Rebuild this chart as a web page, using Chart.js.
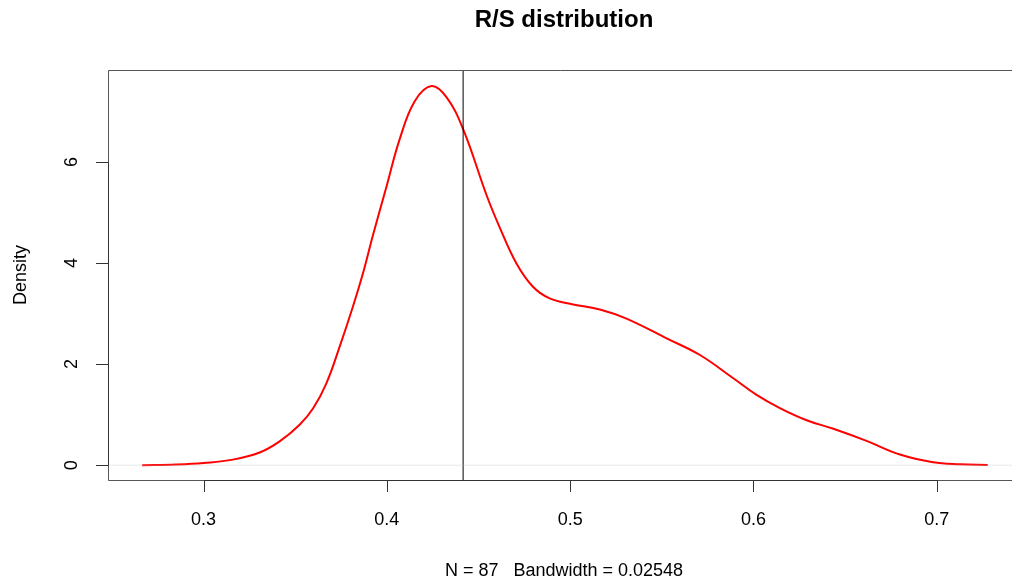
<!DOCTYPE html>
<html>
<head>
<meta charset="utf-8">
<script src="https://cdn.jsdelivr.net/npm/chart.js@4/dist/chart.umd.min.js"></script>
<style>
  html, body { margin: 0; padding: 0; background: #fff; overflow: hidden; }
</style>
</head>
<body>
<canvas id="densityChart" width="1012" height="586"></canvas>
<script>
// density curve
const xValues = [0.2665, 0.285, 0.300, 0.316, 0.3306, 0.3415, 0.3524, 0.3597, 0.367, 0.3742,
                 0.3815, 0.387, 0.3924, 0.3997, 0.4070, 0.4152, 0.4243, 0.4325, 0.4416, 0.4543,
                 0.4616, 0.4707, 0.4797, 0.4888, 0.5016, 0.5162, 0.5307, 0.5526, 0.5708, 0.589,
                 0.6017, 0.6144, 0.629, 0.6436, 0.6617, 0.6799, 0.698, 0.7125, 0.7278];
const densityValues = [0.00, 0.015, 0.045, 0.11, 0.25, 0.47, 0.80, 1.12, 1.62, 2.34,
                       3.14, 3.80, 4.55, 5.50, 6.45, 7.20, 7.50, 7.28, 6.65, 5.35,
                       4.70, 3.99, 3.53, 3.30, 3.18, 3.08, 2.90, 2.51, 2.18, 1.72,
                       1.39, 1.13, 0.89, 0.72, 0.48, 0.21, 0.06, 0.02, 0.005];
const markerX = 0.4416;
const xTicks = [0.3, 0.4, 0.5, 0.6, 0.7];
const yTicks = [0, 2, 4, 6];
const xRange = [0.24786, 0.74105];
const yRange = [-0.293, 7.818];

const FONT = '"Liberation Sans", Arial, Helvetica, sans-serif';

// R style frame, ticks and labels
const rAxes = {
    id: 'rAxes',
    afterDraw(chart) {
        const ctx = chart.ctx;
        const area = chart.chartArea;
        const xs = chart.scales.x, ys = chart.scales.y;
        ctx.save();

        // box
        ctx.strokeStyle = '#555';
        ctx.lineWidth = 1;
        ctx.beginPath();
        ctx.moveTo(1012, area.top + 0.5);
        ctx.lineTo(area.left + 0.5, area.top + 0.5);
        ctx.lineTo(area.left + 0.5, area.bottom + 0.5);
        ctx.lineTo(1012, area.bottom + 0.5);
        ctx.stroke();

        // x axis
        ctx.strokeStyle = '#333';
        ctx.beginPath();
        const x0 = Math.round(xs.getPixelForValue(xTicks[0])) + 0.5;
        const x1 = Math.round(xs.getPixelForValue(xTicks[xTicks.length - 1])) + 0.5;
        ctx.moveTo(x0, area.bottom + 0.5);
        ctx.lineTo(x1, area.bottom + 0.5);
        xTicks.forEach(v => {
            const px = Math.round(xs.getPixelForValue(v)) + 0.5;
            ctx.moveTo(px, area.bottom);
            ctx.lineTo(px, area.bottom + 12);
        });
        // y axis
        const y0 = Math.round(ys.getPixelForValue(yTicks[0])) + 0.5;
        const y1 = Math.round(ys.getPixelForValue(yTicks[yTicks.length - 1])) + 0.5;
        ctx.moveTo(area.left + 0.5, y0);
        ctx.lineTo(area.left + 0.5, y1);
        yTicks.forEach(v => {
            const py = Math.round(ys.getPixelForValue(v)) + 0.5;
            ctx.moveTo(area.left - 12, py);
            ctx.lineTo(area.left, py);
        });
        ctx.stroke();

        ctx.fillStyle = '#000';
        ctx.font = '18px ' + FONT;
        ctx.textAlign = 'center';
        ctx.textBaseline = 'middle';
        xTicks.forEach(v => {
            ctx.fillText(v.toFixed(1), xs.getPixelForValue(v), 520);
        });
        yTicks.forEach(v => {
            ctx.save();
            ctx.translate(72, ys.getPixelForValue(v));
            ctx.rotate(-Math.PI / 2);
            ctx.fillText(String(v), 0, 0);
            ctx.restore();
        });

        // axis titles and main title
        ctx.save();
        ctx.translate(21, 275);
        ctx.rotate(-Math.PI / 2);
        ctx.fillText('Density', 0, 0);
        ctx.restore();

        ctx.fillText('N = 87   Bandwidth = 0.02548', 564, 571);

        ctx.font = 'bold 24px ' + FONT;
        ctx.fillText('R/S distribution', 564, 20);
        ctx.restore();
    }
};

const ctx = document.getElementById('densityChart').getContext('2d');
new Chart(ctx, {
    type: 'line',
    data: {
        datasets: [
            {
                label: 'zero',
                data: [{ x: xRange[0], y: 0 }, { x: xRange[1], y: 0 }],
                borderColor: 'rgba(190,190,190,0.35)',
                borderWidth: 1,
                pointRadius: 0
            },
            {
                label: 'marker',
                data: [{ x: markerX, y: yRange[0] }, { x: markerX, y: yRange[1] }],
                borderColor: '#000',
                borderWidth: 1,
                pointRadius: 0
            },
            {
                label: 'density',
                data: xValues.map((x, i) => ({ x: x, y: densityValues[i] })),
                borderColor: '#ff0000',
                borderWidth: 2,
                pointRadius: 0,
                tension: 0.4
            }
        ]
    },
    options: {
        responsive: false,
        animation: false,
        layout: { padding: { left: 108, top: 70, right: 0, bottom: 106 } },
        plugins: {
            legend: { display: false },
            tooltip: { enabled: false },
            title: { display: false }
        },
        scales: {
            x: { type: 'linear', display: false, min: xRange[0], max: xRange[1] },
            y: { type: 'linear', display: false, min: yRange[0], max: yRange[1] }
        }
    },
    plugins: [rAxes]
});
</script>
</body>
</html>
